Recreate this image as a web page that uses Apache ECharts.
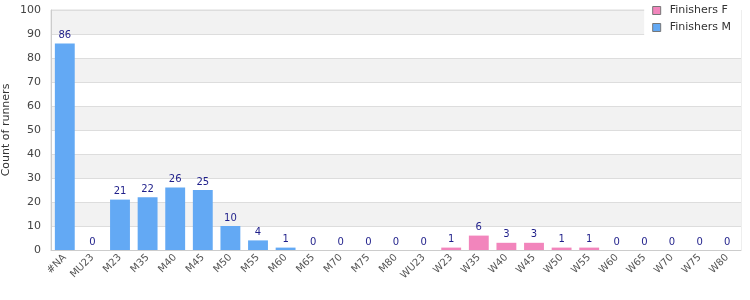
<!DOCTYPE html>
<html>
<head>
<meta charset="utf-8">
<script src="https://cdn.jsdelivr.net/npm/echarts@6/dist/echarts.min.js"></script>
<style>
  html, body { margin: 0; padding: 0; background: #fff; }
  #chart { width: 750px; height: 300px; }
</style>
</head>
<body>
<div id="chart"></div>
<script>
// age categories along the x axis
var categories = ['#NA', 'MU23', 'M23', 'M35', 'M40', 'M45', 'M50', 'M55', 'M60', 'M65', 'M70', 'M75', 'M80',
  'WU23', 'W23', 'W35', 'W40', 'W45', 'W50', 'W55', 'W60', 'W65', 'W70', 'W75', 'W80'];

// counts per category ('-' = not part of this series)
var finishersM = [86, 0, 21, 22, 26, 25, 10, 4, 1, 0, 0, 0, 0,
  '-', '-', '-', '-', '-', '-', '-', '-', '-', '-', '-', '-'];
var finishersF = ['-', '-', '-', '-', '-', '-', '-', '-', '-', '-', '-', '-', '-',
  0, 1, 6, 3, 3, 1, 1, 0, 0, 0, 0, 0];

var yTitle = 'Count of runners';

var font = 'DejaVu Sans';

var myChart = echarts.init(document.getElementById('chart'));

var barLabel = {
  show: true,
  position: 'top',
  distance: 3,
  color: '#1f1f8a',
  fontFamily: font,
  fontSize: 10
};

var option = {
  animation: false,
  textStyle: { fontFamily: font },
  legend: {
    orient: 'vertical',
    right: 9,
    top: 0,
    padding: [5, 10, 4, 8],
    backgroundColor: '#fff',
    itemWidth: 8,
    itemHeight: 8,
    itemGap: 6,
    icon: 'rect',
    itemStyle: { borderColor: '#777', borderWidth: 1 },
    data: ['Finishers F', 'Finishers M'],
    textStyle: { color: '#333', fontSize: 11, fontFamily: font, padding: [0, 0, 0, 4] }
  },
  // y axis title drawn as a rotated text so it sits at the far left edge
  graphic: [{
    type: 'text',
    x: 6,
    y: 130,
    rotation: Math.PI / 2,
    style: {
      text: yTitle,
      fill: '#333',
      font: '11px "DejaVu Sans"',
      align: 'center',
      verticalAlign: 'middle'
    }
  }],
  grid: {
    left: 51,
    right: 9,
    top: 10,
    bottom: 50,
    outerBoundsMode: 'none',
    show: true,
    borderColor: '#ddd',
    borderWidth: 1
  },
  xAxis: {
    type: 'category',
    data: categories,
    axisLine: { lineStyle: { color: '#ccc' } },
    axisTick: { show: false },
    axisLabel: {
      rotate: 45,
      interval: 0,
      color: '#555',
      fontSize: 10,
      fontFamily: font,
      margin: 6
    }
  },
  yAxis: {
    type: 'value',
    min: 0,
    max: 100,
    interval: 10,
    axisLine: { show: true, lineStyle: { color: '#ccc' } },
    axisTick: { show: false },
    axisLabel: { color: '#444', fontSize: 11, fontFamily: font, margin: 10 },
    splitLine: { lineStyle: { color: '#ddd' } },
    splitArea: { show: true, areaStyle: { color: ['#fff', '#f2f2f2'] } }
  },
  series: [
    {
      name: 'Finishers M',
      type: 'bar',
      stack: 'total',
      barWidth: '72%',
      data: finishersM,
      itemStyle: { color: '#63a9f4' },
      label: barLabel
    },
    {
      name: 'Finishers F',
      type: 'bar',
      stack: 'total',
      barWidth: '72%',
      data: finishersF,
      itemStyle: { color: '#f285bc' },
      label: barLabel
    }
  ]
};

option && myChart.setOption(option);
</script>
</body>
</html>
